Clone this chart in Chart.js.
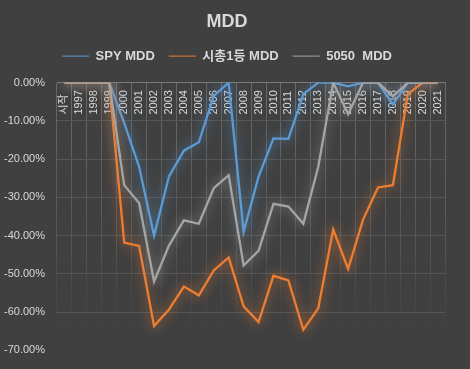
<!DOCTYPE html>
<html>
<head>
<meta charset="utf-8">
<script src="https://cdn.jsdelivr.net/npm/chart.js@4/dist/chart.umd.min.js"></script>
<style>
  html, body { margin: 0; padding: 0; background: #404040; }
  #wrap { width: 470px; height: 369px; }
</style>
</head>
<body>
<div id="wrap"><canvas id="c" width="470" height="369"></canvas></div>
<script>
const categories = ['시작','1997','1998','1999','2000','2001','2002','2003','2004','2005','2006','2007','2008','2009','2010','2011','2012','2013','2014','2015','2016','2017','2018','2019','2020','2021'];
const spyMdd   = [0,0,0,0,-10.5,-22,-40,-24.5,-17.8,-15.6,-3.5,0,-39,-24.6,-14.6,-14.7,-3,0,0,-1,0,0,-5.7,0,0,0];
const top1Mdd  = [0,0,0,0,-41.8,-42.7,-63.6,-59.3,-53.3,-55.6,-49.1,-45.7,-58.5,-62.6,-50.5,-51.7,-64.6,-59,-38.4,-48.7,-35.8,-27.4,-26.8,-3,0,0];
const mixMdd   = [0,0,0,0,-26.8,-31.5,-52,-42.6,-36,-36.9,-27.6,-24.2,-47.8,-44,-31.7,-32.4,-36.9,-22,0,-8.3,0,0,-3.6,0,0,0];
const seriesNames = ['SPY MDD', '시총1등 MDD', '5050  MDD'];
const yTicks = { min: -70, max: 0, step: 10 };

const FONT = '"Liberation Sans", "Noto Sans CJK KR", sans-serif';

const bgPlugin = {
  id: 'bg',
  beforeDraw(chart) {
    const ctx = chart.ctx;
    ctx.save();
    ctx.fillStyle = '#404040';
    ctx.fillRect(0, 0, chart.width, chart.height);
    ctx.restore();
  }
};
const glowPlugin = {
  id: 'glow',
  beforeDatasetDraw(chart, args) {
    const ds = chart.data.datasets[args.index];
    const ctx = chart.ctx;
    ctx.save();
    ctx.shadowColor = ds.glowColor;
    ctx.shadowBlur = 12;
  },
  afterDatasetDraw(chart) {
    chart.ctx.restore();
  }
};

function vGridColor(c) {
  const area = c.chart.chartArea;
  if (!area) return '#585858';
  const g = c.chart.ctx.createLinearGradient(0, area.top, 0, area.bottom);
  g.addColorStop(0, 'rgba(110,110,110,0.9)');
  g.addColorStop(0.6, 'rgba(100,100,100,0.6)');
  g.addColorStop(0.95, 'rgba(90,90,90,0)');
  g.addColorStop(1, 'rgba(90,90,90,0)');
  return g;
}

new Chart(document.getElementById('c'), {
  type: 'line',
  data: {
    labels: categories,
    datasets: [
      { label: seriesNames[0], data: spyMdd, borderColor: '#5B9BD5', backgroundColor: '#5B9BD5', glowColor: 'rgba(91,155,213,0.9)', order: 3 },
      { label: seriesNames[1], data: top1Mdd, borderColor: '#ED7D31', backgroundColor: '#ED7D31', glowColor: 'rgba(237,125,49,0.9)', order: 2 },
      { label: seriesNames[2], data: mixMdd, borderColor: '#A5A5A5', backgroundColor: '#A5A5A5', glowColor: 'rgba(165,165,165,0.9)', order: 1 }
    ]
  },
  options: {
    responsive: false,
    animation: false,
    devicePixelRatio: 1,
    layout: { padding: { left: 0, right: 16, top: 0, bottom: 5 } },
    elements: {
      line: { borderWidth: 2.3, tension: 0, borderJoinStyle: 'miter' },
      point: { radius: 0, hoverRadius: 0 }
    },
    plugins: {
      title: {
        display: true, text: 'MDD', color: '#d9d9d9',
        font: { family: FONT, size: 18, weight: 'bold' },
        padding: { top: 11, bottom: 3 }
      },
      legend: {
        position: 'top',
        labels: {
          color: '#d9d9d9',
          font: { family: FONT, size: 13, weight: 'bold' },
          usePointStyle: true, pointStyle: 'line', pointStyleWidth: 27,
          padding: 14,
          sort: (a, b) => a.datasetIndex - b.datasetIndex
        }
      },
      tooltip: { enabled: false }
    },
    scales: {
      x: {
        position: 'top',
        offset: true,
        grid: { offset: true, drawTicks: false, color: vGridColor, lineWidth: 1 },
        border: { display: true, color: '#7a7a7a', width: 1 },
        ticks: {
          autoSkip: false, minRotation: 90, maxRotation: 90, mirror: true, padding: 32,
          color: '#d9d9d9', font: { family: FONT, size: 11 }
        },
        afterFit(s) { s.height = 10; }
      },
      y: {
        min: yTicks.min, max: yTicks.max,
        grid: {
          drawTicks: false,
          color: (c) => c.tick.value === yTicks.min ? 'rgba(0,0,0,0)' : (c.tick.value === 0 ? '#7a7a7a' : '#575757')
        },
        border: { display: false },
        ticks: {
          stepSize: yTicks.step, padding: 12, color: '#d9d9d9',
          font: { family: FONT, size: 11 },
          callback: (v) => v.toFixed(2) + '%'
        },
        afterFit(s) { s.width = 57; }
      }
    }
  },
  plugins: [bgPlugin, glowPlugin]
});
</script>
</body>
</html>
